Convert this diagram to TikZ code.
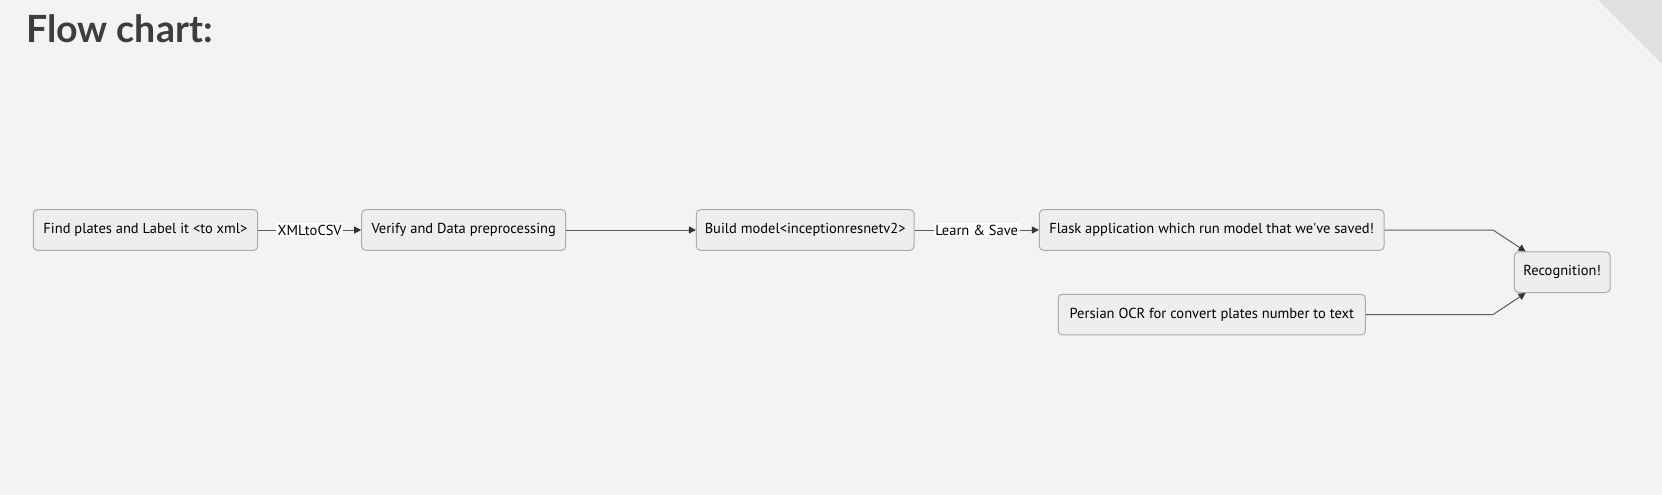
\documentclass[tikz,border=0pt]{standalone}
\usepackage{fontspec}
\setmainfont{PT Sans}
\newfontfamily\titlefont{Lato}
\usetikzlibrary{arrows.meta}

\definecolor{bgcol}{HTML}{F3F3F3}
\definecolor{cornercol}{HTML}{E0E0E0}
\definecolor{titlecol}{HTML}{3D3D3D}
\definecolor{boxfill}{HTML}{EEEEEE}
\definecolor{boxline}{HTML}{ABABAB}
\definecolor{linecol}{HTML}{5C5C5C}
\definecolor{tipcol}{HTML}{333333}

\begin{document}
\begin{tikzpicture}
  [x=1pt,y=-1pt,every node/.style={font=\fontsize{14.5}{17}\selectfont,text=black},
   box/.style={draw=boxline,fill=boxfill,rounded corners=4pt,line width=1pt,
     minimum height=40.6pt,inner sep=0pt},
   lbl/.style={fill=white,inner sep=1.5pt}]

	\tikzset{
	link/.style = {draw=linecol,line width=1pt,-{Triangle[length=7pt,width=7pt,color=tipcol]}}
	}

  \useasboundingbox (0,0) rectangle (1662,495);
  \fill[bgcol] (0,0) rectangle (1662,495);
  \fill[cornercol] (1598,0) -- (1662,0) -- (1662,64) -- cycle;

  \node[anchor=base west,inner sep=0pt,text=titlecol,font=\titlefont\bfseries\fontsize{37.5}{45}\selectfont] (title) at (26,43) {Flow chart:};

  \node[box,minimum width=224.4pt] (find) at (145.5,230) {Find plates and Label it <to xml>};
  \node[box,minimum width=204pt] (verify) at (463.7,230) {Verify and Data preprocessing};
  \node[box,minimum width=217.6pt] (build) at (805.2,230) {Build model<inceptionresnetv2>};
  \node[box,minimum width=344.7pt] (flask) at (1211.7,230) {Flask application which run model that we\textquotesingle ve saved!};
  \node[box,minimum width=307pt] (persian) at (1211.8,314.6) {Persian OCR for convert plates number to text};
  \node[box,minimum width=95.7pt] (recog) at (1562.2,272.2) {Recognition!};

  \coordinate (b1) at (1493,230);
  \coordinate (b2) at (1493,314.6);

  \foreach \from/\to/\txt in {find/verify/XMLtoCSV,build/flask/Learn \& Save}
    \draw[link] (\from) -- node[lbl] {\txt} (\to);
  \draw[link] (verify) -- (build);

  \draw[link] (flask) -- (b1) -- ([xshift=11.7pt]recog.north west);
  \draw[link] (persian) -- (b2) -- ([xshift=11.7pt]recog.south west);

\end{tikzpicture}
\end{document}
